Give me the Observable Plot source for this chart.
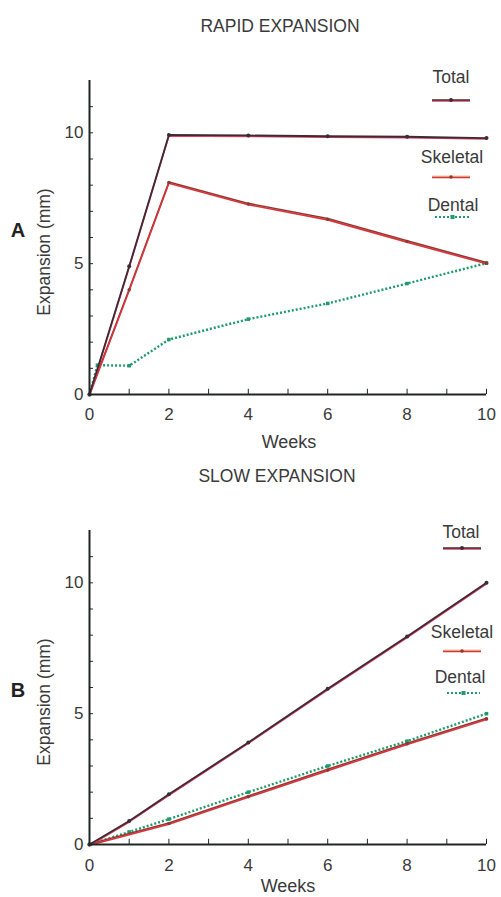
<!DOCTYPE html>
<html>
<head>
<meta charset="utf-8">
<script src="https://cdn.jsdelivr.net/npm/d3@7"></script>
<script src="https://cdn.jsdelivr.net/npm/@observablehq/plot@0.6"></script>
<style>
  html, body { margin: 0; padding: 0; background: #fff; }
  #wrap { position: relative; width: 501px; height: 897px; overflow: hidden; font-family: "Liberation Sans", Arial, sans-serif; }
  #wrap > .panel { position: absolute; left: 0; }
  #overlay { position: absolute; left: 0; top: 0; pointer-events: none; }
</style>
</head>
<body>
<div id="wrap"></div>
<script>
// ---- data ----
const rapidTotalWeeks = [0, 1, 2, 4, 6, 8, 10];
const rapidTotal = [0, 4.9, 9.92, 9.9, 9.87, 9.85, 9.8];
const rapidSkeletalWeeks = [0, 1, 2, 4, 6, 8, 10];
const rapidSkeletal = [0, 4.0, 8.1, 7.28, 6.7, 5.85, 5.02];
const rapidDentalWeeks = [0, 0.2, 1, 2, 4, 6, 8, 10];
const rapidDental = [0, 1.12, 1.1, 2.1, 2.88, 3.48, 4.24, 5.02];

const slowTotalWeeks = [0, 1, 2, 4, 6, 8, 10];
const slowTotal = [0, 0.9, 1.92, 3.9, 5.95, 7.95, 10];
const slowSkeletalWeeks = [0, 2, 4, 6, 8, 10];
const slowSkeletal = [0, 0.8, 1.83, 2.85, 3.85, 4.8];
const slowDentalWeeks = [0, 1, 2, 4, 6, 8, 10];
const slowDental = [0, 0.48, 0.97, 2.0, 3.0, 3.95, 5.0];

const xTicks = [0, 2, 4, 6, 8, 10];
const yTicks = [0, 5, 10];
const panelTitles = ["RAPID EXPANSION", "SLOW EXPANSION"];
const panelLetters = ["A", "B"];
const seriesNames = ["Total", "Skeletal", "Dental"];
const xLabel = "Weeks";
const yLabel = "Expansion (mm)";

const zip = (xs, ys) => xs.map((x, i) => ({x, y: ys[i]}));

const C = {
  totalDark: "#3d2a36", totalRed: "#e0405a",
  skelRed: "#d8343c", skelDark: "#8c3a30",
  dental: "#1f9a6c", axis: "#1f2624", text: "#3a3a3a"
};

function panel(total, skel, dental, opts) {
  return Plot.plot({
    width: 501,
    height: opts.height,
    marginLeft: 89,
    marginRight: 15,
    marginTop: opts.mt,
    marginBottom: opts.mb,
    style: {fontFamily: "'Liberation Sans', Arial, sans-serif", fontSize: "17px", color: C.text, background: "transparent"},
    x: {domain: [0, 10], ticks: xTicks, tickSize: 0, tickPadding: opts.xpad, label: null},
    y: {domain: [0, 12], ticks: yTicks, tickSize: 0, tickPadding: 6, label: null},
    marks: [
      // inward minor ticks
      Plot.ruleX(d3.range(1, 11), {y1: 0, y2: 0.2, stroke: C.axis, strokeWidth: 1}),
      Plot.ruleY(d3.range(1, 12), {x1: 0, x2: 0.1, stroke: C.axis, strokeWidth: 1}),
      // dental (dotted green)
      Plot.line(dental, {x: "x", y: "y", stroke: C.dental, strokeWidth: 2.4, strokeDasharray: "2,2", strokeLinecap: "butt", strokeLinejoin: "miter"}),
      Plot.dot(dental, {x: "x", y: "y", symbol: "square", r: 2, fill: C.dental}),
      // skeletal
      Plot.line(skel, {x: "x", y: "y", stroke: C.skelDark, strokeWidth: 1.6, dy: -0.6}),
      Plot.line(skel, {x: "x", y: "y", stroke: C.skelRed, strokeWidth: 1.6, dy: 0.7}),
      Plot.dot(skel, {x: "x", y: "y", r: 1.8, fill: C.skelDark}),
      // total
      Plot.line(total, {x: "x", y: "y", stroke: C.totalRed, strokeWidth: 1.6, dy: 1}),
      Plot.line(total, {x: "x", y: "y", stroke: C.totalDark, strokeWidth: 1.8}),
      Plot.dot(total, {x: "x", y: "y", r: 2, fill: C.totalDark}),
      // axes lines
      Plot.ruleX([0], {stroke: C.axis, strokeWidth: 2}),
      Plot.ruleY([0], {stroke: C.axis, strokeWidth: 2.2})
    ]
  });
}

const wrap = document.getElementById("wrap");

const p1 = panel(zip(rapidTotalWeeks, rapidTotal), zip(rapidSkeletalWeeks, rapidSkeletal), zip(rapidDentalWeeks, rapidDental),
  {height: 455, mt: 80, mb: 61, xpad: 13});
p1.classList.add("panel"); p1.style.top = "0px";
wrap.appendChild(p1);

const p2 = panel(zip(slowTotalWeeks, slowTotal), zip(slowSkeletalWeeks, slowSkeletal), zip(slowDentalWeeks, slowDental),
  {height: 442, mt: 75, mb: 53, xpad: 14});
p2.classList.add("panel"); p2.style.top = "455px";
wrap.appendChild(p2);

// ---- overlay: titles, axis labels, legends ----
const svg = d3.select(wrap).append("svg").attr("id", "overlay").attr("width", 501).attr("height", 897)
  .style("font-family", "'Liberation Sans', Arial, sans-serif").style("fill", C.text);

const layout = [
  {title: [280, 32], weeks: [289, 448], ylab: [50, 252], letter: [18, 237],
   leg: [{t: [451, 83], l: [432, 470, 100]}, {t: [452, 163], l: [432, 470, 177]}, {t: [453, 211], l: [435, 470, 217]}]},
  {title: [277, 482], weeks: [288, 892], ylab: [50, 702], letter: [18, 697],
   leg: [{t: [461, 538], l: [443, 481, 548]}, {t: [462, 638], l: [443, 481, 651]}, {t: [460, 683], l: [447, 480, 693]}]}
];

layout.forEach((L, i) => {
  svg.append("text").attr("x", L.title[0]).attr("y", L.title[1]).attr("text-anchor", "middle")
    .attr("font-size", 17.5).text(panelTitles[i]);
  svg.append("text").attr("x", L.weeks[0]).attr("y", L.weeks[1]).attr("text-anchor", "middle")
    .attr("font-size", 18).text(xLabel);
  svg.append("text").attr("transform", `translate(${L.ylab[0]},${L.ylab[1]}) rotate(-90)`).attr("text-anchor", "middle")
    .attr("font-size", 17.5).text(yLabel);
  svg.append("text").attr("x", L.letter[0]).attr("y", L.letter[1]).attr("text-anchor", "middle")
    .attr("font-size", 20).attr("font-weight", "bold").style("fill", "#222").text(panelLetters[i]);
  L.leg.forEach((g, k) => {
    svg.append("text").attr("x", g.t[0]).attr("y", g.t[1]).attr("text-anchor", "middle")
      .attr("font-size", 17.5).text(seriesNames[k]);
    const [x1, x2, y] = g.l, xm = (x1 + x2) / 2;
    if (k === 0) {
      svg.append("line").attr("x1", x1).attr("x2", x2).attr("y1", y + 1).attr("y2", y + 1).attr("stroke", C.totalRed).attr("stroke-width", 1.4);
      svg.append("line").attr("x1", x1).attr("x2", x2).attr("y1", y).attr("y2", y).attr("stroke", C.totalDark).attr("stroke-width", 1.4);
      svg.append("circle").attr("cx", xm).attr("cy", y).attr("r", 2).attr("fill", C.totalDark);
    } else if (k === 1) {
      svg.append("line").attr("x1", x1).attr("x2", x2).attr("y1", y - 0.8).attr("y2", y - 0.8).attr("stroke", "#d8a060").attr("stroke-width", 0.9);
      svg.append("line").attr("x1", x1).attr("x2", x2).attr("y1", y + 0.5).attr("y2", y + 0.5).attr("stroke", C.skelRed).attr("stroke-width", 1.6);
      svg.append("circle").attr("cx", xm).attr("cy", y).attr("r", 1.8).attr("fill", C.skelDark);
    } else {
      svg.append("line").attr("x1", x1).attr("x2", x2).attr("y1", y).attr("y2", y).attr("stroke", C.dental)
        .attr("stroke-width", 2.2).attr("stroke-dasharray", "2,2");
      svg.append("rect").attr("x", xm - 2).attr("y", y - 2).attr("width", 4).attr("height", 4).attr("fill", C.dental);
    }
  });
});
</script>
</body>
</html>
